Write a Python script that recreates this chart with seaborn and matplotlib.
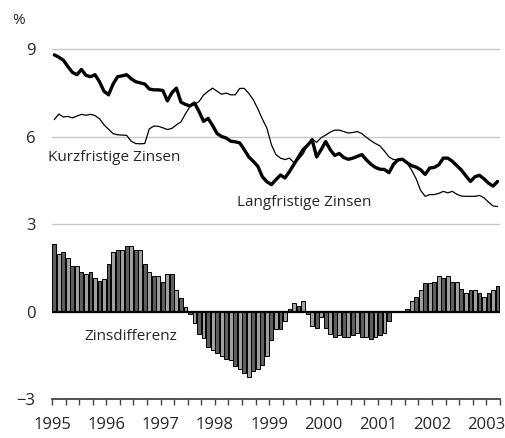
import numpy as np
import pandas as pd
import matplotlib
matplotlib.use('Agg')
import matplotlib.pyplot as plt
import seaborn as sns

# monthly data, Jan 1995 - Mar 2003
years = ['1995', '1996', '1997', '1998', '1999', '2000', '2001', '2002', '2003']

lang = [8.80, 8.72, 8.62, 8.40, 8.20, 8.12, 8.30, 8.10, 8.05, 8.12, 7.88, 7.55,
        7.43, 7.80, 8.05, 8.08, 8.12, 7.98, 7.88, 7.84, 7.80, 7.63, 7.60, 7.60,
        7.58, 7.22, 7.50, 7.66, 7.18, 7.10, 7.05, 7.15, 6.86, 6.52, 6.62, 6.38,
        6.10, 6.00, 5.95, 5.84, 5.82, 5.78, 5.55, 5.30, 5.15, 4.98, 4.62, 4.45,
        4.35, 4.52, 4.68, 4.58, 4.80, 5.05, 5.30, 5.55, 5.70, 5.89, 5.30, 5.55,
        5.83, 5.55, 5.35, 5.42, 5.28, 5.22, 5.26, 5.32, 5.38, 5.20, 5.05, 4.94,
        4.88, 4.87, 4.76, 5.05, 5.20, 5.22, 5.10, 5.00, 4.95, 4.86, 4.70, 4.92,
        4.94, 5.03, 5.26, 5.26, 5.15, 5.00, 4.85, 4.65, 4.46, 4.62, 4.67, 4.55,
        4.40, 4.30, 4.46]

kurz = [6.58, 6.77, 6.67, 6.69, 6.64, 6.70, 6.76, 6.73, 6.76, 6.72, 6.61, 6.40,
        6.25, 6.10, 6.06, 6.05, 6.04, 5.84, 5.76, 5.75, 5.76, 6.26, 6.36, 6.35,
        6.30, 6.24, 6.28, 6.40, 6.50, 6.78, 7.03, 7.10, 7.20, 7.42, 7.55, 7.66,
        7.55, 7.45, 7.49, 7.43, 7.43, 7.65, 7.65, 7.48, 7.26, 6.95, 6.60, 6.29,
        5.72, 5.38, 5.26, 5.21, 5.26, 5.10, 5.22, 5.40, 5.70, 5.92, 5.80, 5.96,
        6.05, 6.15, 6.22, 6.22, 6.17, 6.12, 6.14, 6.17, 6.10, 5.97, 5.86, 5.76,
        5.68, 5.50, 5.30, 5.21, 5.21, 5.21, 5.08, 4.85, 4.55, 4.15, 3.95, 4.01,
        4.01, 4.05, 4.12, 4.07, 4.12, 4.02, 3.96, 3.95, 3.95, 3.95, 3.98, 3.90,
        3.75, 3.62, 3.60]

diff = [2.30, 1.96, 2.03, 1.82, 1.55, 1.55, 1.37, 1.30, 1.37, 1.16, 1.03, 1.10,
        1.62, 2.03, 2.10, 2.10, 2.24, 2.24, 2.10, 2.10, 1.62, 1.37, 1.23, 1.23,
        1.01, 1.29, 1.29, 0.75, 0.48, 0.14, -0.10, -0.41, -0.78, -0.91, -1.23, -1.31,
        -1.43, -1.51, -1.63, -1.65, -1.88, -1.98, -2.11, -2.23, -2.05, -1.97, -1.84, -1.51,
        -0.97, -0.60, -0.60, -0.34, 0.08, 0.29, 0.20, 0.36, -0.08, -0.49, -0.55, -0.19,
        -0.55, -0.76, -0.88, -0.81, -0.88, -0.88, -0.81, -0.74, -0.88, -0.88, -0.94, -0.88,
        -0.81, -0.74, -0.34, 0.00, 0.00, 0.00, 0.08, 0.36, 0.49, 0.74, 0.97, 0.97,
        1.01, 1.21, 1.15, 1.21, 1.01, 1.01, 0.77, 0.63, 0.74, 0.74, 0.63, 0.49,
        0.63, 0.74, 0.89]

month = np.arange(len(lang))
df = pd.DataFrame({'month': month, 'lang': lang, 'kurz': kurz, 'diff': diff,
                   'shade': month % 2})

sns.set_style('white')
plt.rcParams['font.family'] = ['Open Sans', 'DejaVu Sans']

fig = plt.figure(figsize=(5.06, 4.38), dpi=100)
ax = fig.add_axes([0.1028, 0.089, 0.885, 0.839])

# gridlines
for g in [3, 6, 9]:
    ax.axhline(g, color='#c8c8c8', lw=1.0, zorder=0)

sns.barplot(data=df, x='month', y='diff', hue='shade', palette=['#5e5e5e', '#a0a0a0'],
            native_scale=True, dodge=False, width=0.85, edgecolor='black',
            linewidth=0.7, legend=False, ax=ax, zorder=2)

ax.axhline(0, color='black', lw=1.6, zorder=3)

sns.lineplot(data=df, x='month', y='kurz', color='black', lw=0.9, ax=ax, zorder=4)
sns.lineplot(data=df, x='month', y='lang', color='black', lw=2.4, ax=ax, zorder=5)

ax.set_xlim(-0.5, 98.5)
ax.set_ylim(-3, 9.6)

ax.set_xticks(np.arange(-0.5, 99, 3), minor=True)
ax.set_xticks(np.arange(-0.5, 99, 12))
ax.set_xticklabels(years)
ax.set_yticks([-3, 0, 3, 6, 9])
ax.set_yticklabels(['\u22123', '0', '3', '6', '9'])
ax.set_xlabel('')
ax.set_ylabel('')

for s in ['top', 'right', 'left']:
    ax.spines[s].set_visible(False)
ax.spines['bottom'].set_color('#444444')
ax.spines['bottom'].set_linewidth(1.3)
ax.spines['bottom'].set_position(('data', -3))

ax.tick_params(axis='x', which='both', direction='out', length=4, width=1.0,
               color='#444444', labelsize=12, pad=9, bottom=True)
ax.tick_params(axis='y', length=0, labelsize=12, pad=12)

ax.text(-1.4, 5.27, 'Kurzfristige Zinsen', fontsize=11, va='center', ha='left')
ax.text(40.4, 3.73, 'Langfristige Zinsen', fontsize=11, va='center', ha='left')
ax.text(6.6, -0.86, 'Zinsdifferenz', fontsize=11, va='center', ha='left')
fig.text(12 / 506, 1 - 20 / 438, '%', fontsize=11, va='center', ha='left')

fig.savefig('out.png', dpi=100)
